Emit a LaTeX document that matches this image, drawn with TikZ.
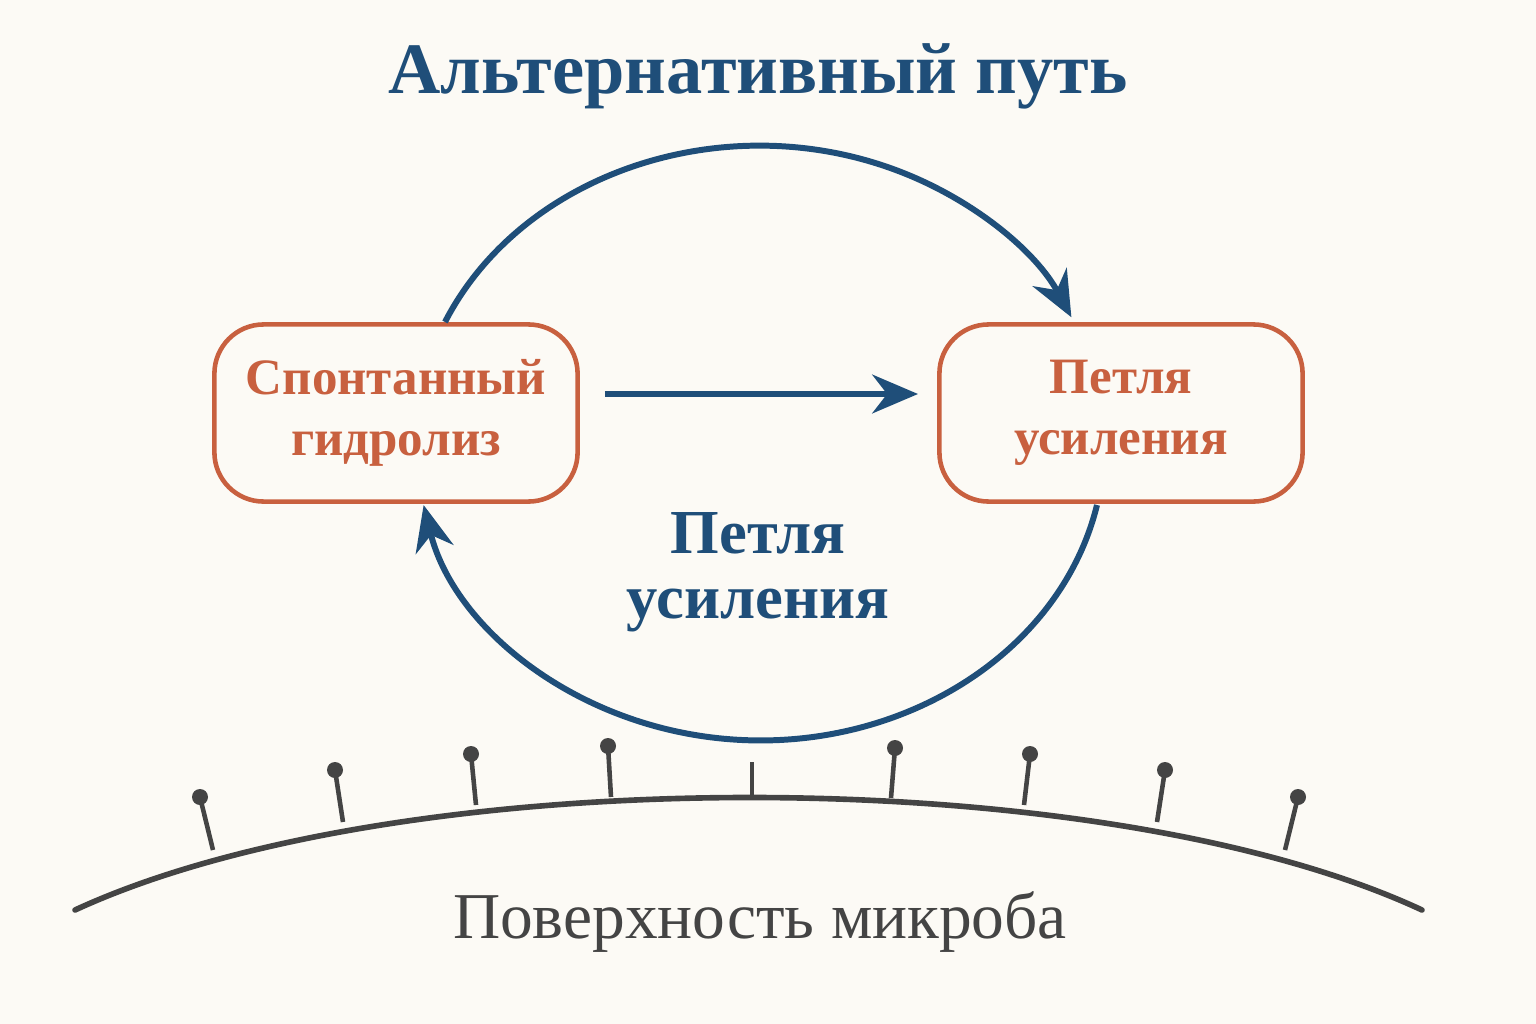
\documentclass[tikz,border=0pt]{standalone}
\usepackage{fontspec}
\setmainfont{Liberation Serif}
\usetikzlibrary{arrows.meta}
\definecolor{paper}{HTML}{FCFAF5}
\definecolor{pathblue}{HTML}{1F4E79}
\definecolor{boxred}{HTML}{C8603F}
\definecolor{surfgray}{HTML}{444444}
\tikzset{
  stepbox/.style={draw=boxred, line width=1.3pt, rounded corners=14pt, minimum width=3.63cm, minimum height=1.77cm, text=boxred, font=\fontsize{14.5}{17.5}\selectfont\bfseries, align=center},
  flow/.style={draw=pathblue, line width=1.7pt, -{Stealth[length=13pt,width=11pt]}},
  receptor/.style={draw=surfgray, line width=1.3pt}
}
\begin{document}
\begin{tikzpicture}[x=0.01cm,y=-0.01cm]
\fill[paper] (0,0) rectangle (1536,1024);
\useasboundingbox (0,0) rectangle (1536,1024);
\node (title) [text=pathblue, font=\fontsize{20.6}{24}\selectfont\bfseries] at (758,76) {Альтернативный путь};
\node (hydro) [stepbox] at (396,413) {Спонтанный\\гидролиз};
\node (loop) [stepbox] at (1121,413) {Петля\\усиления};
\node (mid) [text=pathblue, font=\fontsize{17.8}{18.5}\selectfont\bfseries, align=center] at (758,572) {Петля\\усиления};
\coordinate (topstart) at (445,322);
\coordinate (botstart) at (1097,505);
\draw[flow] (hydro.east) ++(25,-19) coordinate (a) (a) -- (918,394) coordinate (b);
\draw[flow] (topstart) arc[start angle=156, end angle=25, x radius=3.44cm, y radius=2.97cm];
\draw[flow] (botstart) arc[start angle=-12, end angle=-168, x radius=3.44cm, y radius=2.97cm];
% surface of the microbe
\draw[surfgray, line width=1.6pt, line cap=round] (75,910) .. controls (400,760) and (1100,760) .. (1422,910);
\foreach \bx/\by/\tx/\ty in {213/850/200/797, 343/822/335/770, 476/805/471/754, 611/797/608/746, 891/798/895/748, 1024/805/1030/754, 1157/822/1165/770, 1285/850/1298/797}{
  \draw[receptor] (\bx,\by) -- (\tx,\ty);
  \fill[surfgray] (\tx,\ty) circle[radius=8];
}
\draw[receptor] (752,797) -- (752,762);
\node (surface) [text=surfgray, font=\fontsize{18.6}{22}\selectfont] at (760,922) {Поверхность микроба};
\end{tikzpicture}
\end{document}
